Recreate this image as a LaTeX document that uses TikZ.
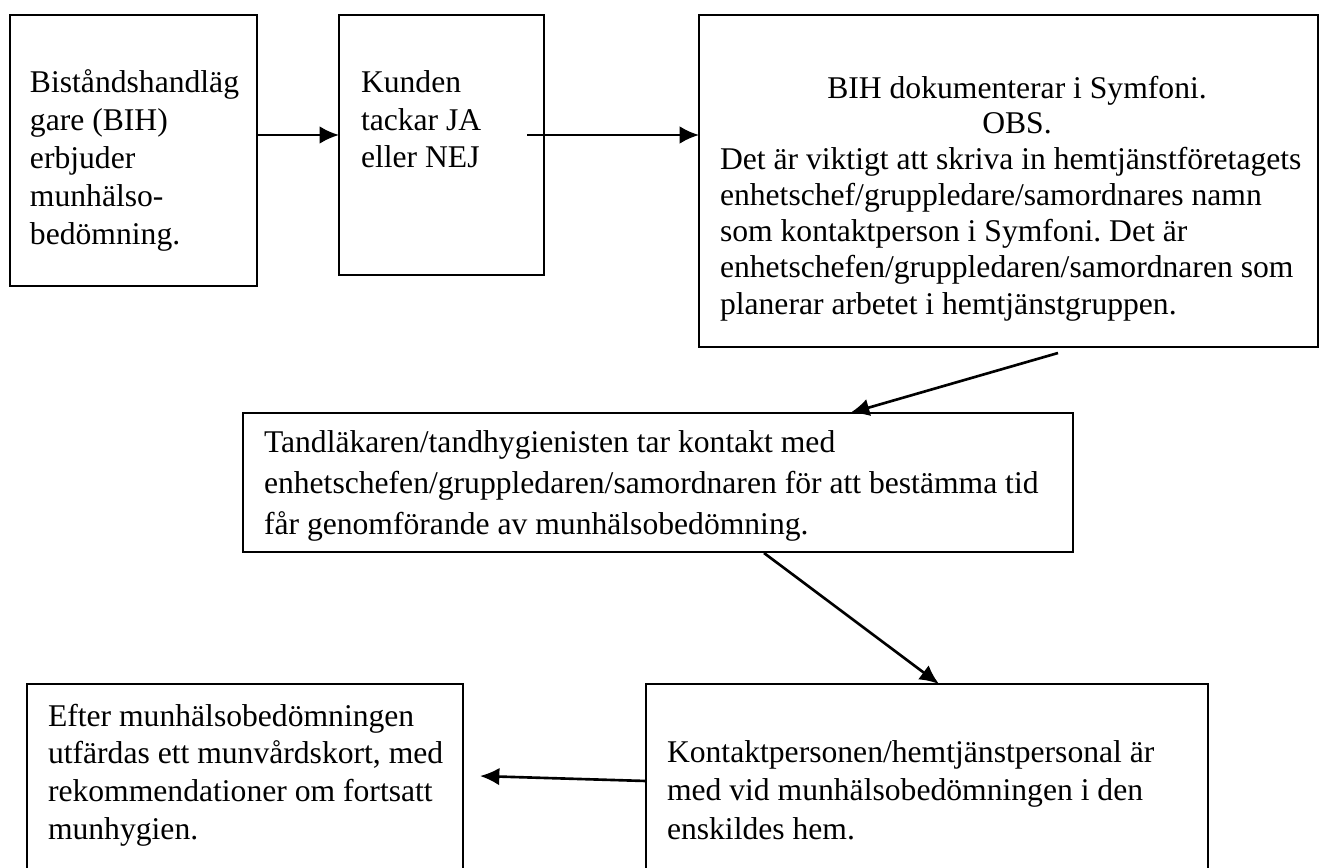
\documentclass[tikz,border=0pt]{standalone}
\usepackage{fontspec}
\setmainfont{Liberation Serif}
\usetikzlibrary{arrows.meta,calc}
\frenchspacing
\begin{document}
\begin{tikzpicture}[x=0.02cm,y=-0.02cm]
	\tikzstyle{every node}+=[inner sep=0pt,outer sep=0pt]
	\tikzstyle{box}=[draw=black,line width=1pt,rectangle]
	\tikzstyle{txt}=[anchor=base west,align=left,font=\fontsize{18}{21.5}\selectfont]
	\tikzstyle{arr}=[line width=1.5pt,-{Latex[length=11pt,width=10pt]}]
	\clip (0,0) rectangle (1328,868);
	\node[box,minimum width=4.94cm,minimum height=5.42cm] (b1) at (133.5,150.5) {};
	\node[box,minimum width=4.1cm,minimum height=5.2cm] (b2) at (441.5,145) {};
	\node[box,minimum width=12.38cm,minimum height=6.64cm] (b3) at (1008.5,181) {};
	\node[box,minimum width=16.6cm,minimum height=2.78cm] (b4) at (658,482.5) {};
	\node[box,minimum width=11.24cm,minimum height=4.32cm] (b5) at (927,792) {};
	\node[box,minimum width=8.72cm,minimum height=4.32cm] (b6) at (245,792) {};
	\node[txt] (t1) at (30,244) {Biståndshandläg\\gare (BIH)\\erbjuder\\munhälso-\\bedömning.};
	\node[txt] (t2) at (361,168) {Kunden\\tackar JA\\eller NEJ};
	\node[txt,anchor=base,align=center,font=\fontsize{18}{20}\selectfont] (t3a) at (1017,134) {BIH dokumenterar i Symfoni.\\OBS.};
	\node[txt,font=\fontsize{18}{20.5}\selectfont] (t3b) at (720,314) {Det är viktigt att skriva in hemtjänstföretagets\\enhetschef/gruppledare/samordnares namn\\som kontaktperson i Symfoni. Det är\\enhetschefen/gruppledaren/samordnaren som\\planerar arbetet i hemtjänstgruppen.};
	\node[txt,font=\fontsize{18}{23.2}\selectfont] (t4) at (264,534) {Tandläkaren/tandhygienisten tar kontakt med\\enhetschefen/gruppledaren/samordnaren för att bestämma tid\\får genomförande av munhälsobedömning.};
	\node[txt,font=\fontsize{18}{21.8}\selectfont] (t5) at (667,839) {Kontaktpersonen/hemtjänstpersonal är\\med vid munhälsobedömningen i den\\enskildes hem.};
	\node[txt,font=\fontsize{18}{21.4}\selectfont] (t6) at (48,839) {Efter munhälsobedömningen\\utfärdas ett munvårdskort, med\\rekommendationer om fortsatt\\munhygien.};
	\coordinate (y1) at (0,135);
	\coordinate (s2) at (527,135);
	\coordinate (s3) at (1058,353);
	\coordinate (e3) at (850,0);
	\coordinate (s4) at (764,553);
	\coordinate (e4) at (939,0);
	\coordinate (y5) at (0,781);
	\coordinate (e5) at (480,776);
	\draw[arr] (b1.east |- y1) -- (b2.west |- y1);
	\draw[arr] (s2) -- (b3.west |- s2);
	\draw[arr] (s3) -- (b4.north -| e3);
	\draw[arr] (s4) -- (b5.north -| e4);
	\draw[arr] (b5.west |- y5) -- (e5);
\end{tikzpicture}
\end{document}
